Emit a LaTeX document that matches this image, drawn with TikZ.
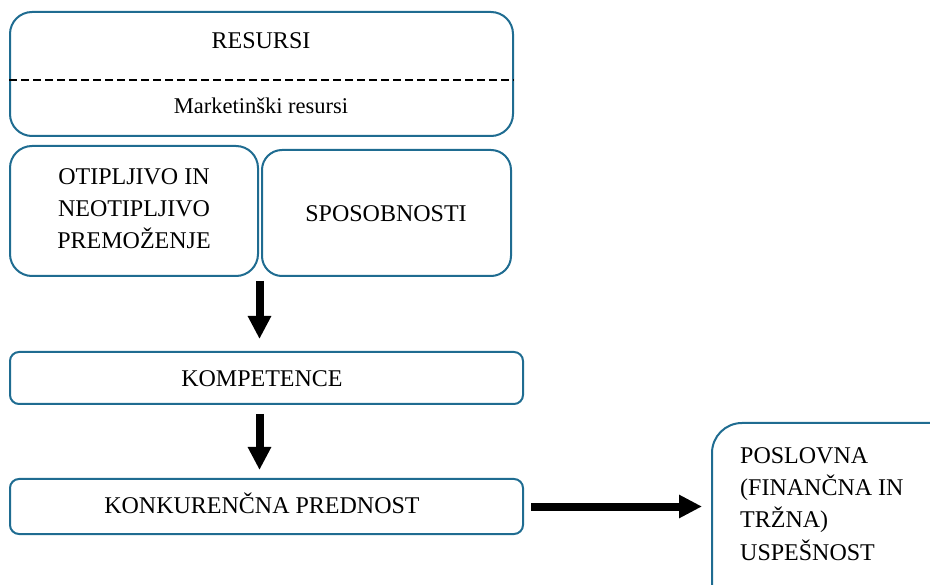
\documentclass[tikz,border=0pt]{standalone}
\usepackage{fontspec}
\setmainfont{Liberation Serif}
\usetikzlibrary{arrows.meta}
\definecolor{boxline}{RGB}{31,108,145}
\begin{document}
\begin{tikzpicture}[x=1pt,y=-1pt,
  box/.style={draw=boxline, line width=2pt, inner sep=0pt},
  lbl/.style={font=\fontsize{24}{32.3}\selectfont, inner sep=0pt, anchor=base},
  dashline/.style={line width=2pt, dash pattern=on 8pt off 4pt},
  bigarrow/.style={line width=8pt, -{Triangle[width=22pt,length=23pt]}},
]
\useasboundingbox (0,0) rectangle (930,585);

% boxes
\node[box, rounded corners=22pt, minimum width=503pt, minimum height=124pt] (res) at (261.5,74) {};
\node[box, rounded corners=22pt, minimum width=248pt, minimum height=130pt] (otip) at (134,211) {};
\node[box, rounded corners=20pt, minimum width=249pt, minimum height=126pt] (spos) at (386.5,213) {};
\node[box, rounded corners=9pt, minimum width=513pt, minimum height=52pt] (komp) at (266.5,378) {};
\node[box, rounded corners=9pt, minimum width=513pt, minimum height=55pt] (konk) at (266.5,506.5) {};
\node[box, rounded corners=30pt, minimum width=260pt, minimum height=200pt] (posl) at (842,523) {};

% divider inside the resources box
\draw[dashline] ([yshift=-6pt]res.west) -- ([yshift=-6pt]res.east);

% labels (multi-line labels are anchored on their last baseline)
\node[lbl] (resT) at (261,49) {RESURSI};
\node[lbl, font=\fontsize{22.5}{32}\selectfont] (mres) at (261,114) {Marketinški resursi};
\node[lbl, align=center] (otipT) at (134,249) {OTIPLJIVO IN\\NEOTIPLJIVO\\PREMOŽENJE};
\node[lbl] (sposT) at (386,222) {SPOSOBNOSTI};
\node[lbl] (kompT) at (262,387) {KOMPETENCE};
\node[lbl] (konkT) at (262,513) {KONKURENČNA PREDNOST};
\node[lbl, align=left, anchor=base west] (poslT) at (740,560) {POSLOVNA\\(FINANČNA IN\\TRŽNA)\\USPEŠNOST};

% flow arrows
\coordinate (split) at (259.5,276);
\draw[bigarrow, shorten <=5pt, shorten >=12pt] (split) -- (split |- komp.north);
\draw[bigarrow, shorten <=9pt, shorten >=8pt] (split |- komp.south) -- (split |- konk.north);
\draw[bigarrow, shorten <=7pt, shorten >=9pt] (konk.east) -- (konk.east -| posl.west);
\end{tikzpicture}
\end{document}
